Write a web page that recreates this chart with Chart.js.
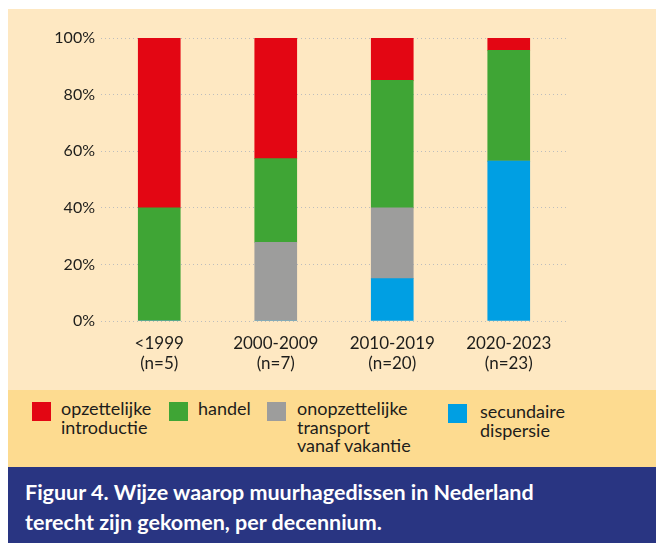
<!DOCTYPE html>
<html>
<head>
<meta charset="utf-8">
<script src="https://cdn.jsdelivr.net/npm/chart.js@4"></script>
<style>
  html, body { margin: 0; padding: 0; background: #ffffff; }
  body { width: 656px; height: 543px; position: relative; overflow: hidden; font-family: Lato, sans-serif; }
  #panel { position: absolute; left: 8px; top: 9px; width: 648px; height: 381px; background: #FEE8C2; }
  #cv { position: absolute; left: 0; top: 0; }
  #legend { position: absolute; left: 8px; top: 390px; width: 648px; height: 77px; background: #FDDB90; }
  .sw { position: absolute; width: 19px; height: 19px; }
  .lt { position: absolute; font-size: 18px; line-height: 18.5px; color: #1d1d1b; white-space: nowrap; }
  #title { position: absolute; left: 8px; top: 467px; width: 648px; height: 76px; background: #293582; color: #ffffff;
           font-weight: bold; font-size: 21.5px; line-height: 30px; }
  #title div { position: absolute; left: 17px; top: 10px; white-space: nowrap; }
</style>
</head>
<body>
<div id="panel"><canvas id="cv" width="648" height="381"></canvas></div>
<div id="legend"></div>
<div id="title"><div>Figuur 4. Wijze waarop muurhagedissen in Nederland<br>terecht zijn gekomen, per decennium.</div></div>
<script>
const categories = [["<1999", "(n=5)"], ["2000-2009", "(n=7)"], ["2010-2019", "(n=20)"], ["2020-2023", "(n=23)"]];
const secundaireDispersie = [0, 0, 15, 56.5];
const onopzettelijkTransport = [0, 27.8, 25, 0];
const handel = [40, 29.6, 45, 39.1];
const opzettelijkeIntroductie = [60, 42.6, 15, 4.4];
const yTicks = [0, 20, 40, 60, 80, 100];

const legendItems = [
  { label: "opzettelijke\nintroductie", color: "#E30613", sx: 24, sy: 12, tx: 53, ty: 12 },
  { label: "handel", color: "#3FA535", sx: 161, sy: 12, tx: 190, ty: 12 },
  { label: "onopzettelijke\ntransport\nvanaf vakantie", color: "#9D9D9C", sx: 259, sy: 12, tx: 289, ty: 12 },
  { label: "secundaire\ndispersie", color: "#009FE3", sx: 440, sy: 14, tx: 472, ty: 15 }
];
const lg = document.getElementById('legend');
legendItems.forEach(it => {
  const s = document.createElement('div');
  s.className = 'sw'; s.style.left = it.sx + 'px'; s.style.top = it.sy + 'px'; s.style.background = it.color;
  lg.appendChild(s);
  const t = document.createElement('div');
  t.className = 'lt'; t.style.left = it.tx + 'px'; t.style.top = (it.ty - 3) + 'px';
  t.innerHTML = it.label.split('\n').join('<br>');
  lg.appendChild(t);
});

new Chart(document.getElementById('cv'), {
  type: 'bar',
  data: {
    labels: categories,
    datasets: [
      { label: 'secundaire dispersie', data: secundaireDispersie, backgroundColor: '#009FE3' },
      { label: 'onopzettelijke transport vanaf vakantie', data: onopzettelijkTransport, backgroundColor: '#9D9D9C' },
      { label: 'handel', data: handel, backgroundColor: '#3FA535' },
      { label: 'opzettelijke introductie', data: opzettelijkeIntroductie, backgroundColor: '#E30613' }
    ]
  },
  options: {
    responsive: false,
    animation: false,
    devicePixelRatio: 1,
    layout: { padding: { top: 29, right: 89, bottom: 0, left: 0 } },
    datasets: { bar: { barThickness: 42, borderWidth: 0 } },
    plugins: { legend: { display: false }, tooltip: { enabled: false } },
    scales: {
      x: {
        stacked: true,
        grid: { display: false, drawTicks: false },
        border: { display: false },
        ticks: { color: '#1d1d1b', padding: 13, font: { family: 'Lato', size: 17, lineHeight: 1.15 }, maxRotation: 0, autoSkip: false },
        afterFit: s => { s.height = 69; }
      },
      y: {
        stacked: true,
        min: 0, max: 100,
        afterBuildTicks: s => { s.ticks = yTicks.map(v => ({ value: v })); },
        grid: { color: '#BDBDBD', lineWidth: 1, drawTicks: false },
        border: { display: false, dash: [1, 3] },
        ticks: { color: '#1d1d1b', padding: 6, font: { family: 'Lato', size: 16 }, callback: v => v + '%' },
        afterFit: s => { s.width = 93; }
      }
    }
  }
});
</script>
</body>
</html>
